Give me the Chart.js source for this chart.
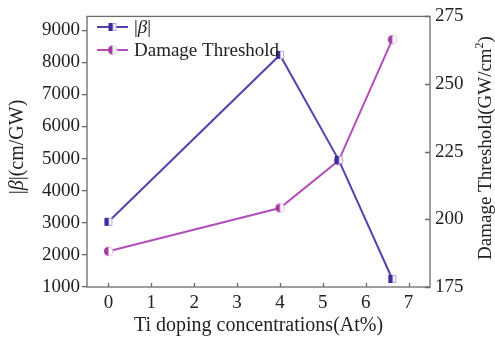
<!DOCTYPE html>
<html>
<head>
<meta charset="utf-8">
<script src="https://cdn.jsdelivr.net/npm/chart.js@4/dist/chart.umd.min.js"></script>
<style>
html,body{margin:0;padding:0;background:#fff;}
#wrap{width:495px;height:340px;position:relative;}
</style>
</head>
<body>
<div id="wrap"><canvas id="c" width="495" height="340"></canvas></div>
<script>
// ---- data ----
const dopingX = [0, 4, 5.37, 6.62];
const betaValues = [3030, 8230, 4960, 1250];
const damageValues = [188.2, 204.2, 221.7, 266.4];
const xTickValues = [0, 1, 2, 3, 4, 5, 6, 7];
const leftTickValues = [1000, 2000, 3000, 4000, 5000, 6000, 7000, 8000, 9000];
const rightTickValues = [175, 200, 225, 250, 275];
const seriesLabels = ['|β|', 'Damage Threshold'];

const BETA_COLOR = '#5443ad';
const BETA_DARK = '#3e2c9c';
const BETA_EDGE = '#b9a6e6';
const DMG_COLOR = '#b150b8';
const DMG_DARK = '#a2399f';
const DMG_EDGE = '#e3b2e6';
const AXIS = '#6a6a6a';
const FONT = '"Liberation Serif", "DejaVu Serif", serif';

function makeSquare() {
  const c = document.createElement('canvas');
  c.width = 10; c.height = 10;
  const x = c.getContext('2d');
  x.fillStyle = '#fff'; x.fillRect(1, 1, 8, 8);
  x.fillStyle = BETA_DARK; x.fillRect(1, 1, 4, 8);
  x.strokeStyle = BETA_EDGE; x.lineWidth = 1;
  x.strokeRect(5.5, 1.5, 3, 7);
  return c;
}
function makeCircle() {
  const c = document.createElement('canvas');
  c.width = 11; c.height = 11;
  const x = c.getContext('2d');
  x.fillStyle = '#fff';
  x.beginPath(); x.arc(5.5, 5.5, 4.5, 0, Math.PI * 2); x.fill();
  x.fillStyle = DMG_DARK;
  x.beginPath(); x.arc(5.5, 5.5, 4.5, Math.PI / 2, Math.PI * 1.5); x.closePath(); x.fill();
  x.strokeStyle = DMG_EDGE; x.lineWidth = 1;
  x.beginPath(); x.arc(5.5, 5.5, 4.5, -Math.PI / 2, Math.PI / 2); x.stroke();
  return c;
}
const sqImg = makeSquare();
const ciImg = makeCircle();

// draw text with italic β
function drawRich(ctx, text, x, y, size) {
  const parts = [];
  for (const ch of text) {
    const it = ch === 'β';
    if (parts.length && parts[parts.length - 1].it === it) parts[parts.length - 1].t += ch;
    else parts.push({t: ch, it});
  }
  let w = 0;
  for (const p of parts) { ctx.font = (p.it ? 'italic ' : '') + size + 'px ' + FONT; p.w = ctx.measureText(p.t).width; w += p.w; }
  return {parts, w, draw(x0) {
    let cx = x0;
    for (const p of parts) { ctx.font = (p.it ? 'italic ' : '') + size + 'px ' + FONT; ctx.fillText(p.t, cx, y); cx += p.w; }
  }};
}

const decor = {
  id: 'decor',
  afterDraw(chart) {
    const ctx = chart.ctx;
    const a = chart.chartArea;
    const xs = chart.scales.x, yr = chart.scales.y1;
    ctx.save();
    // frame
    ctx.strokeStyle = AXIS; ctx.lineWidth = 1.3;
    ctx.strokeRect(a.left, a.top, a.right - a.left, a.bottom - a.top);
    // inward ticks on x and right axis
    ctx.beginPath();
    for (const v of xTickValues) {
      const px = Math.round(xs.getPixelForValue(v)) + 0.5;
      ctx.moveTo(px, a.bottom); ctx.lineTo(px, a.bottom - 4);
    }
    for (const v of rightTickValues) {
      const py = Math.round(yr.getPixelForValue(v)) + 0.5;
      ctx.moveTo(a.right, py); ctx.lineTo(a.right - 5, py);
    }
    ctx.stroke();

    // left title (rotated, bottom-to-top)
    ctx.fillStyle = '#222';
    ctx.textBaseline = 'middle';
    ctx.save();
    ctx.translate(18, 147);
    ctx.rotate(-Math.PI / 2);
    let r = drawRich(ctx, '|β|(cm/GW)', 0, 0, 20);
    r.draw(-r.w / 2);
    ctx.restore();

    // right title (bottom-to-top)
    ctx.save();
    ctx.translate(486, 148);
    ctx.rotate(-Math.PI / 2);
    const FS = 19;
    ctx.font = FS + 'px ' + FONT;
    const t1 = 'Damage Threshold(GW/cm';
    const w1 = ctx.measureText(t1).width;
    ctx.font = '12px ' + FONT;
    const w2 = ctx.measureText('2').width;
    ctx.font = FS + 'px ' + FONT;
    const w3 = ctx.measureText(')').width;
    const tot = w1 + w2 + w3;
    let sx = -tot / 2;
    ctx.fillText(t1, sx, 0);
    ctx.font = '12px ' + FONT;
    ctx.fillText('2', sx + w1, -6);
    ctx.font = FS + 'px ' + FONT;
    ctx.fillText(')', sx + w1 + w2, 0);
    ctx.restore();

    // legend
    const items = chart.data.datasets;
    const rows = [27, 50];
    items.forEach((ds, i) => {
      const y = rows[i];
      ctx.strokeStyle = ds.borderColor; ctx.lineWidth = 2;
      ctx.beginPath(); ctx.moveTo(97, y); ctx.lineTo(128, y); ctx.stroke();
      const img = ds.pointStyle;
      ctx.drawImage(img, 112.5 - img.width / 2, y - img.height / 2);
      ctx.fillStyle = '#222';
      const rr = drawRich(ctx, ds.label, 0, y + 1, 19);
      rr.draw(134);
    });
    ctx.restore();
  }
};

const toPts = (xs, ys) => xs.map((v, i) => ({x: v, y: ys[i]}));
const plain = v => String(v);

new Chart(document.getElementById('c'), {
  type: 'line',
  data: {
    datasets: [
      {label: seriesLabels[0], data: toPts(dopingX, betaValues), yAxisID: 'y',
       borderColor: BETA_COLOR, borderWidth: 2, pointStyle: sqImg, pointRadius: 5, tension: 0},
      {label: seriesLabels[1], data: toPts(dopingX, damageValues), yAxisID: 'y1',
       borderColor: DMG_COLOR, borderWidth: 2, pointStyle: ciImg, pointRadius: 5, tension: 0}
    ]
  },
  options: {
    responsive: false,
    animation: false,
    events: [],
    layout: {padding: {top: 12, left: 0, right: 0, bottom: 0}},
    plugins: {legend: {display: false}, tooltip: {enabled: false}},
    scales: {
      x: {
        type: 'linear', min: -0.5, max: 7.5,
        afterBuildTicks: s => { s.ticks = xTickValues.map(v => ({value: v})); },
        afterFit: s => { s.height = 53; },
        grid: {display: false, drawTicks: false},
        border: {display: false},
        ticks: {color: '#222', font: {family: FONT, size: 19}, padding: 5, callback: plain},
        title: {display: true, text: 'Ti doping concentrations(At%)', color: '#222',
                font: {family: FONT, size: 20}, padding: {top: 0, bottom: 2}}
      },
      y: {
        position: 'left', min: 1000, max: 9430,
        afterBuildTicks: s => { s.ticks = leftTickValues.map(v => ({value: v})); },
        afterFit: s => { s.width = 87; },
        grid: {drawOnChartArea: false, drawTicks: true, tickLength: 5, color: AXIS, lineWidth: 1.3},
        border: {display: false},
        ticks: {color: '#222', font: {family: FONT, size: 19}, padding: 2, callback: plain}
      },
      y1: {
        position: 'right', min: 175, max: 275,
        afterBuildTicks: s => { s.ticks = rightTickValues.map(v => ({value: v})); },
        afterFit: s => { s.width = 65; },
        grid: {display: false, drawTicks: false},
        border: {display: false},
        ticks: {color: '#222', font: {family: FONT, size: 19}, padding: 5, callback: plain}
      }
    }
  },
  plugins: [decor]
});
</script>
</body>
</html>
